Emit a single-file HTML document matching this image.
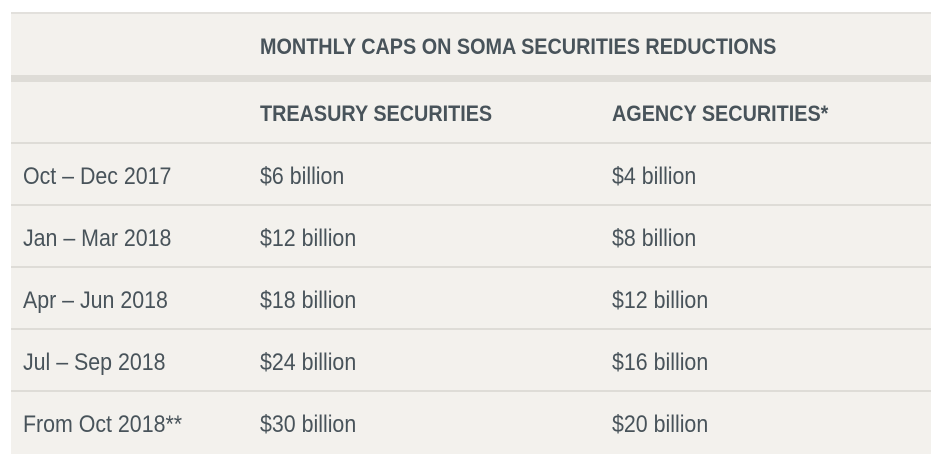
<!DOCTYPE html>
<html><head><meta charset="utf-8"><style>
body{margin:0;width:940px;height:460px;background:#fff;overflow:hidden;font-family:"Liberation Sans",sans-serif;color:#48535a}
.t{position:absolute;left:11px;top:12px;width:920px;height:440px;background:#f3f1ed;border-top:2px solid #e2e0dc}
.line{position:absolute;left:0;width:920px;height:2px;background:#dedcd7}
.txt{position:absolute;font-size:24px;white-space:nowrap;line-height:26px;transform-origin:left center;transform:scaleX(0.89)}
.h{font-weight:bold;font-size:22px;transform:scaleX(0.9)}
</style></head><body>
<div class="t">
<div class="txt h" style="left:249px;top:20px">MONTHLY CAPS ON SOMA SECURITIES REDUCTIONS</div>
<div class="line" style="top:61px;height:7px"></div>
<div class="txt h" style="left:249px;top:87px">TREASURY SECURITIES</div>
<div class="txt h" style="left:601px;top:87px">AGENCY SECURITIES*</div>
<div class="line" style="top:128px"></div>
<div id="rows"></div>
</div>
<script>
const periods=["Oct – Dec 2017","Jan – Mar 2018","Apr – Jun 2018","Jul – Sep 2018","From Oct 2018**"];
const treasury=[6,12,18,24,30];
const agency=[4,8,12,16,20];
const rows=document.getElementById('rows');
periods.forEach((p,i)=>{
 const top=130+i*62;
 const cells=[[12,p],[249,"$"+treasury[i]+" billion"],[601,"$"+agency[i]+" billion"]];
 cells.forEach((c,j)=>{
  const d=document.createElement('div');d.className='txt';
  d.style.left=c[0]+'px';d.style.top=(top+20)+'px';d.textContent=c[1];
  
  
  rows.appendChild(d);
 });
 if(i<periods.length-1){
  const l=document.createElement('div');l.className='line';l.style.top=(top+60)+'px';
  
  
  rows.appendChild(l);
 }
});
</script>
</body></html>
